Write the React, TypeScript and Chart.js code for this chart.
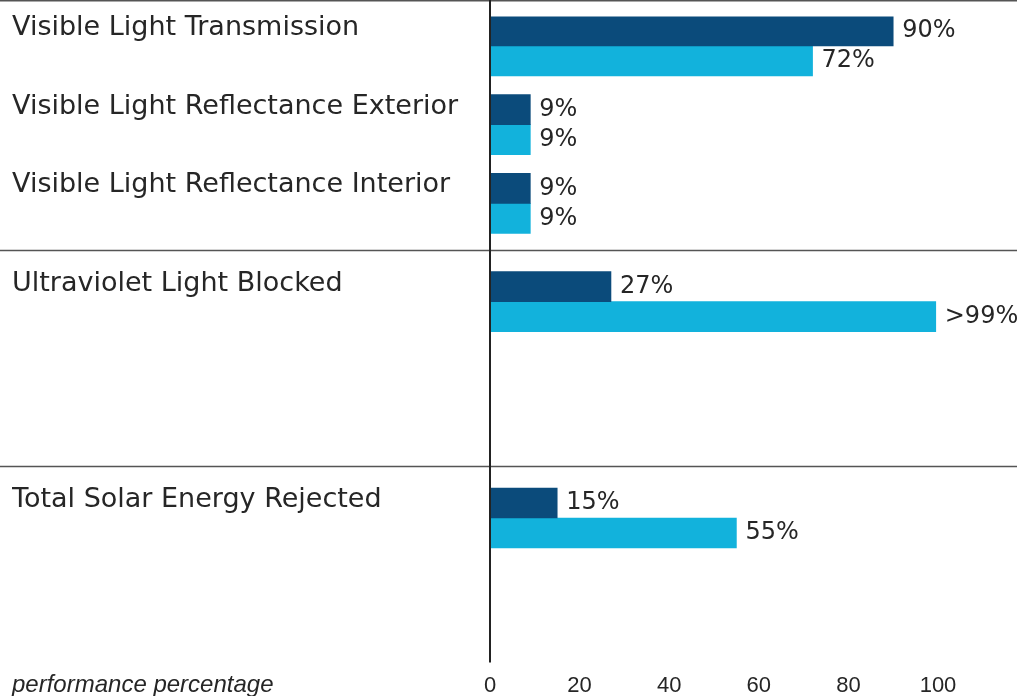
import React, { useEffect, useRef } from 'react';
import { Chart, registerables } from 'chart.js';

Chart.register(...registerables);

// ---- data ----
const categories = [
  'Visible Light Transmission',
  'Visible Light Reflectance Exterior',
  'Visible Light Reflectance Interior',
  'Ultraviolet Light Blocked',
  'Total Solar Energy Rejected',
];
const darkValues = [90, 9, 9, 27, 15];
const lightValues = [72, 9, 9, 99.5, 55];
const darkLabels = ['90%', '9%', '9%', '27%', '15%'];
const lightLabels = ['72%', '9%', '9%', '>99%', '55%'];
const xTicks = [0, 20, 40, 60, 80, 100];
const axisTitle = 'performance percentage';

// ---- layout (row slots on the category axis, ruled sections) ----
const rowSlots = [1, 5, 9, 14, 25];
const slotCount = 33;
const sectionStarts = [3, 4];

const DARK = '#0b4b7b';
const LIGHT = '#12b2dc';
const TEXT = '#262626';

const slotIndex = (i: number) => rowSlots.indexOf(i);
const slotLabels = Array.from({ length: slotCount }, (_, i) => {
  const k = slotIndex(i);
  return k >= 0 ? [categories[k], ''] : '';
});
const darkData = Array.from({ length: slotCount }, (_, i) => {
  const k = slotIndex(i);
  return k >= 0 ? darkValues[k] : null;
});
const lightData = Array.from({ length: slotCount }, (_, i) => {
  const k = slotIndex(i);
  return k >= 0 ? lightValues[k] : null;
});

const TICK_FONT = 22;
const TICK_PAD = 7;

const decor = {
  id: 'decor',
  beforeDatasetsDraw(chart: any) {
    const { ctx, scales } = chart;
    const y = scales.y;
    ctx.save();
    ctx.strokeStyle = '#555';
    ctx.lineWidth = 1.5;
    const hline = (py: number) => {
      ctx.beginPath();
      ctx.moveTo(0, py);
      ctx.lineTo(chart.width, py);
      ctx.stroke();
    };
    hline(0.75);
    sectionStarts.forEach((k) => {
      const py = Math.round(y.getPixelForValue(rowSlots[k]) - 52) + 0.5;
      hline(py);
    });
    ctx.restore();
  },
  afterDatasetsDraw(chart: any) {
    const { ctx, chartArea, scales } = chart;
    const x = scales.x;
    ctx.save();
    // value labels
    ctx.font = '24px "DejaVu Sans"';
    ctx.fillStyle = TEXT;
    ctx.textBaseline = 'middle';
    ctx.textAlign = 'left';
    const labelSets = [darkLabels, lightLabels];
    chart.data.datasets.forEach((ds: any, di: number) => {
      const meta = chart.getDatasetMeta(di);
      meta.data.forEach((el: any, j: number) => {
        if (ds.data[j] == null) return;
        const k = slotIndex(j);
        ctx.fillText(labelSets[di][k], el.x + 9, el.y);
      });
    });
    // vertical axis line
    const px = Math.round(x.getPixelForValue(0));
    ctx.strokeStyle = '#222';
    ctx.lineWidth = 2;
    ctx.beginPath();
    ctx.moveTo(px, 0);
    ctx.lineTo(px, chartArea.bottom - 3);
    ctx.stroke();
    // axis title
    ctx.font = 'italic 24px "Liberation Sans"';
    ctx.fillStyle = TEXT;
    ctx.textBaseline = 'middle';
    ctx.fillText(axisTitle, 12, x.top + TICK_PAD + (TICK_FONT * 1.2) / 2);
    ctx.restore();
  },
};

export default function App() {
  const ref = useRef<HTMLCanvasElement | null>(null);

  useEffect(() => {
    if (!ref.current) return;
    const chart = new Chart(ref.current, {
      type: 'bar',
      data: {
        labels: slotLabels as any,
        datasets: [
          {
            label: 'dark',
            data: darkData as any,
            backgroundColor: DARK,
            barThickness: 30,
          },
          {
            label: 'light',
            data: lightData as any,
            backgroundColor: LIGHT,
            barThickness: 30,
          },
        ],
      },
      options: {
        indexAxis: 'y',
        responsive: false,
        animation: false,
        devicePixelRatio: 1,
        layout: { padding: { left: 12, right: 79, top: 16.5, bottom: 0 } },
        plugins: {
          legend: { display: false },
          tooltip: { enabled: false },
        },
        scales: {
          x: {
            type: 'linear',
            min: 0,
            max: 100,
            grid: { display: false, drawTicks: false },
            border: { display: false },
            afterBuildTicks: (scale: any) => {
              scale.ticks = xTicks.map((v) => ({ value: v }));
            },
            afterFit: (scale: any) => {
              scale.height = 30.5;
              scale.paddingLeft = 0;
              scale.paddingRight = 0;
            },
            ticks: {
              padding: TICK_PAD,
              color: TEXT,
              font: { family: '"Liberation Sans"', size: TICK_FONT },
              maxRotation: 0,
            },
          },
          y: {
            type: 'category',
            offset: true,
            grid: { display: false, drawTicks: false },
            border: { display: false },
            afterFit: (scale: any) => {
              scale.width = 478;
              scale.paddingTop = 0;
              scale.paddingBottom = 0;
            },
            ticks: {
              autoSkip: false,
              crossAlign: 'far',
              color: TEXT,
              font: { family: '"DejaVu Sans"', size: 27, lineHeight: '36px' as any },
            },
          },
        },
      },
      plugins: [decor],
    });
    return () => chart.destroy();
  }, []);

  return (
    <div style={{ position: 'fixed', left: 0, top: 0, width: 1017, height: 696, background: '#fff' }}>
      <canvas ref={ref} width={1017} height={696} style={{ display: 'block' }} />
    </div>
  );
}
